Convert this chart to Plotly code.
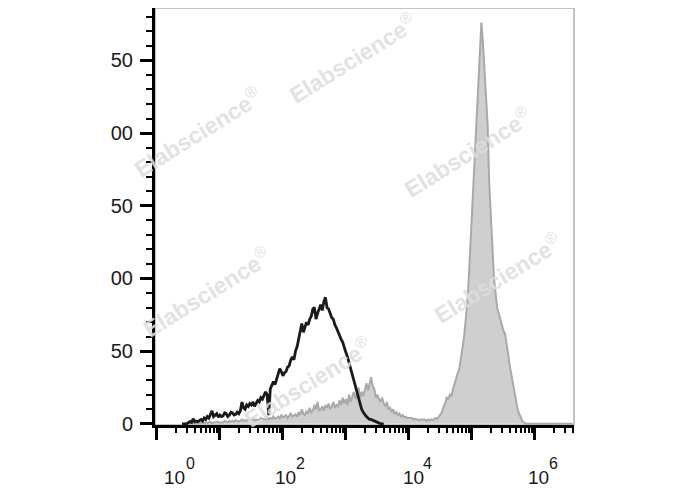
import plotly.graph_objects as go

# ---------------- data ----------------
# histogram bins: log10 of fluorescence intensity (bin centres)
bin_step = 0.025
black_start = 0.40
gray_start = 0.40

# unstained / control (black line) counts
black_counts = [
    0, 0, 0.5, 0, 1, 1.5, 1, 3.5,
    1.5, 2, 1.5, 2.5, 3, 2, 4, 3,
    5, 4, 6, 9, 5, 6, 7, 4.5,
    6, 5, 5.5, 7.5, 7, 5, 6, 8,
    7.5, 6, 6.5, 8, 7, 9, 15, 11,
    10, 13, 12, 14, 13, 15, 12, 14,
    16, 15, 18, 17, 19, 22, 20, 6,
    24, 26, 29, 27, 31, 34, 38, 36,
    33, 35, 36, 39, 40, 44, 46, 44,
    50, 53, 58, 64, 69, 63, 66, 70,
    68, 72, 74, 79, 80, 72, 76, 79,
    82, 78, 84, 87, 80, 79, 76, 73,
    72, 68, 66, 63, 60, 58, 56, 52,
    49, 46, 42, 37, 33, 29, 25, 21,
    18, 14, 10, 8, 6, 5, 4, 3,
    3, 2.5, 2, 1, 0.5, 0.5, 0, 0,
    0,
]

# stained sample (gray filled) counts
gray_counts = [
    0, 0, 0, 0, 0.5, 0, 0, 0.5,
    0, 0.5, 0, 0.5, 1, 0.5, 0.5, 1,
    0.5, 1, 1.5, 0.5, 1, 1, 1.5, 1,
    1, 1.5, 1, 2, 1.5, 1, 2, 1.5,
    2, 1.5, 2.5, 2, 1.5, 2, 3, 2,
    2.5, 2, 3, 2.5, 2, 3.5, 2.5, 3,
    3, 2.5, 4, 3, 3.5, 3, 4.5, 3,
    4, 3.5, 5, 3.5, 4, 5, 4, 6,
    4.5, 5, 6, 4, 5.5, 7, 5, 6,
    6.5, 5, 8, 6, 10, 7, 6, 9,
    7, 11, 8, 9, 13, 10, 15, 9,
    10, 12, 9, 13, 11, 14, 10, 12,
    15, 11, 13, 12, 16, 13, 18, 14,
    17, 13, 20, 15, 18, 22, 17, 21,
    25, 18, 22, 19, 24, 28, 23, 27,
    32, 26, 24, 18, 20, 17, 15, 18,
    14, 12, 15, 10, 11, 8, 10, 7,
    8, 6, 7, 5, 6, 4.5, 5, 4,
    4, 3.5, 4, 3, 3.5, 3, 2.5, 3,
    3, 2.5, 3, 2, 3, 2.5, 3, 2.5,
    3, 4, 3.5, 5, 6, 8, 12, 14,
    18, 17, 20, 19, 24, 28, 32, 35,
    38, 44, 52, 60, 70, 82, 100, 122,
    147, 170, 193, 214, 232, 255, 276, 262,
    245, 228, 205, 165, 140, 122, 100, 90,
    80, 76, 72, 68, 64, 62, 56, 48,
    40, 34, 28, 22, 15, 10, 7, 4,
    2, 1, 0, 0, 0, 0, 0, 0,
    0, 0, 0, 0, 0, 0, 0, 0,
    0, 0, 0, 0, 0, 0, 0, 0,
    0, 0, 0, 0, 0, 0, 0, 0,
    0,
]

x_tick_vals = [1, 10, 100, 1000, 10000, 100000, 1000000]
x_label_exps = [0, 2, 4, 6]
x_label_base = ["10", "10", "10", "10"]
x_label_sup = ["0", "2", "4", "6"]
y_tick_vals = [0, 50, 100, 150, 200, 250]
y_tick_text = ["0", "50", "00", "50", "00", "50"]
watermark = "<b>Elabscience</b><sup>®</sup>"

# ---------------- build ----------------
black_x = [10 ** round(black_start + i * bin_step, 4) for i in range(len(black_counts))]
gray_x = [10 ** round(gray_start + i * bin_step, 4) for i in range(len(gray_counts))]

x_minor = [m * 10 ** d for d in range(0, 7) for m in range(2, 10) if m * 10 ** d < 4.2e6]

fig = go.Figure()
fig.add_trace(go.Scatter(
    x=gray_x, y=gray_counts, mode="lines",
    line=dict(color="#a9a9a9", width=2),
    fill="tozeroy", fillcolor="#cfcfcf",
    hoverinfo="skip", showlegend=False,
))
fig.add_trace(go.Scatter(
    x=black_x, y=black_counts, mode="lines",
    line=dict(color="#1a1a1a", width=2.8),
    hoverinfo="skip", showlegend=False,
))

font_family = "Liberation Sans, Arial, sans-serif"

# page body has an 8px margin: figure occupies x 8..688, y 8..490
FIG_W, FIG_H = 680, 482
ML, MR, MT, MB = 147, 114, 0, 65

fig.update_layout(
    width=FIG_W, height=FIG_H,
    margin=dict(l=ML, r=MR, t=MT, b=MB),
    paper_bgcolor="white", plot_bgcolor="white",
    showlegend=False,
    font=dict(family=font_family, color="#1a1a1a"),
    xaxis=dict(
        type="log", range=[-0.03, 6.62],
        showgrid=False, zeroline=False,
        showline=True, linecolor="black", linewidth=3,
        tickmode="array", tickvals=x_tick_vals,
        showticklabels=False,
        ticks="outside", ticklen=12, tickwidth=3, tickcolor="black",
        minor=dict(tickvals=x_minor, ticks="outside", ticklen=5,
                   tickwidth=2, tickcolor="black", showgrid=False),
    ),
    yaxis=dict(
        range=[-0.8, 286],
        showgrid=False, zeroline=False,
        showline=True, linecolor="black", linewidth=3,
        tickmode="array", tickvals=y_tick_vals, ticktext=y_tick_text,
        ticks="outside", ticklen=12, tickwidth=3, tickcolor="black",
        ticklabelstandoff=3,
        tickfont=dict(size=20, family=font_family, color="#1a1a1a"),
        minor=dict(dtick=10, ticks="outside", ticklen=6,
                   tickwidth=2, tickcolor="black", showgrid=False),
    ),
)

# thin gray frame
fig.add_shape(type="rect", xref="x domain", yref="y domain",
              x0=0, x1=1, y0=0, y1=1,
              line=dict(color="#8a8a8a", width=1), layer="below")

# x tick labels as annotations (log axis -> positions in log10 units)
base_shifts = [5, -10, -8, -9]
sup_shifts = [27, 11, 12, 12]
for e, b, sp, bs, ss in zip(x_label_exps, x_label_base, x_label_sup, base_shifts, sup_shifts):
    fig.add_annotation(
        x=e, y=0, xref="x", yref="paper", showarrow=False,
        text=b, xanchor="left", yanchor="top", xshift=bs, yshift=-40,
        font=dict(size=19, family=font_family, color="#1a1a1a"),
    )
    fig.add_annotation(
        x=e, y=0, xref="x", yref="paper", showarrow=False,
        text=sp, xanchor="left", yanchor="top", xshift=ss, yshift=-28,
        font=dict(size=16, family=font_family, color="#1a1a1a"),
    )

# watermarks (window pixel positions -> paper fractions)
PW = FIG_W - ML - MR
PH = FIG_H - MT - MB
wm_pos = [(352, 58), (197, 132), (467, 152), (497, 278), (206, 292), (307, 382)]
for px, py in wm_pos:
    fig.add_annotation(
        x=(px - 8 - ML) / PW, y=1 - (py - 8 - MT) / PH,
        xref="paper", yref="paper", showarrow=False,
        xanchor="center", yanchor="middle",
        text=watermark, textangle=-32,
        font=dict(size=23, family=font_family, color="#dedede"),
        opacity=0.85,
    )

fig.write_html("out.html")
